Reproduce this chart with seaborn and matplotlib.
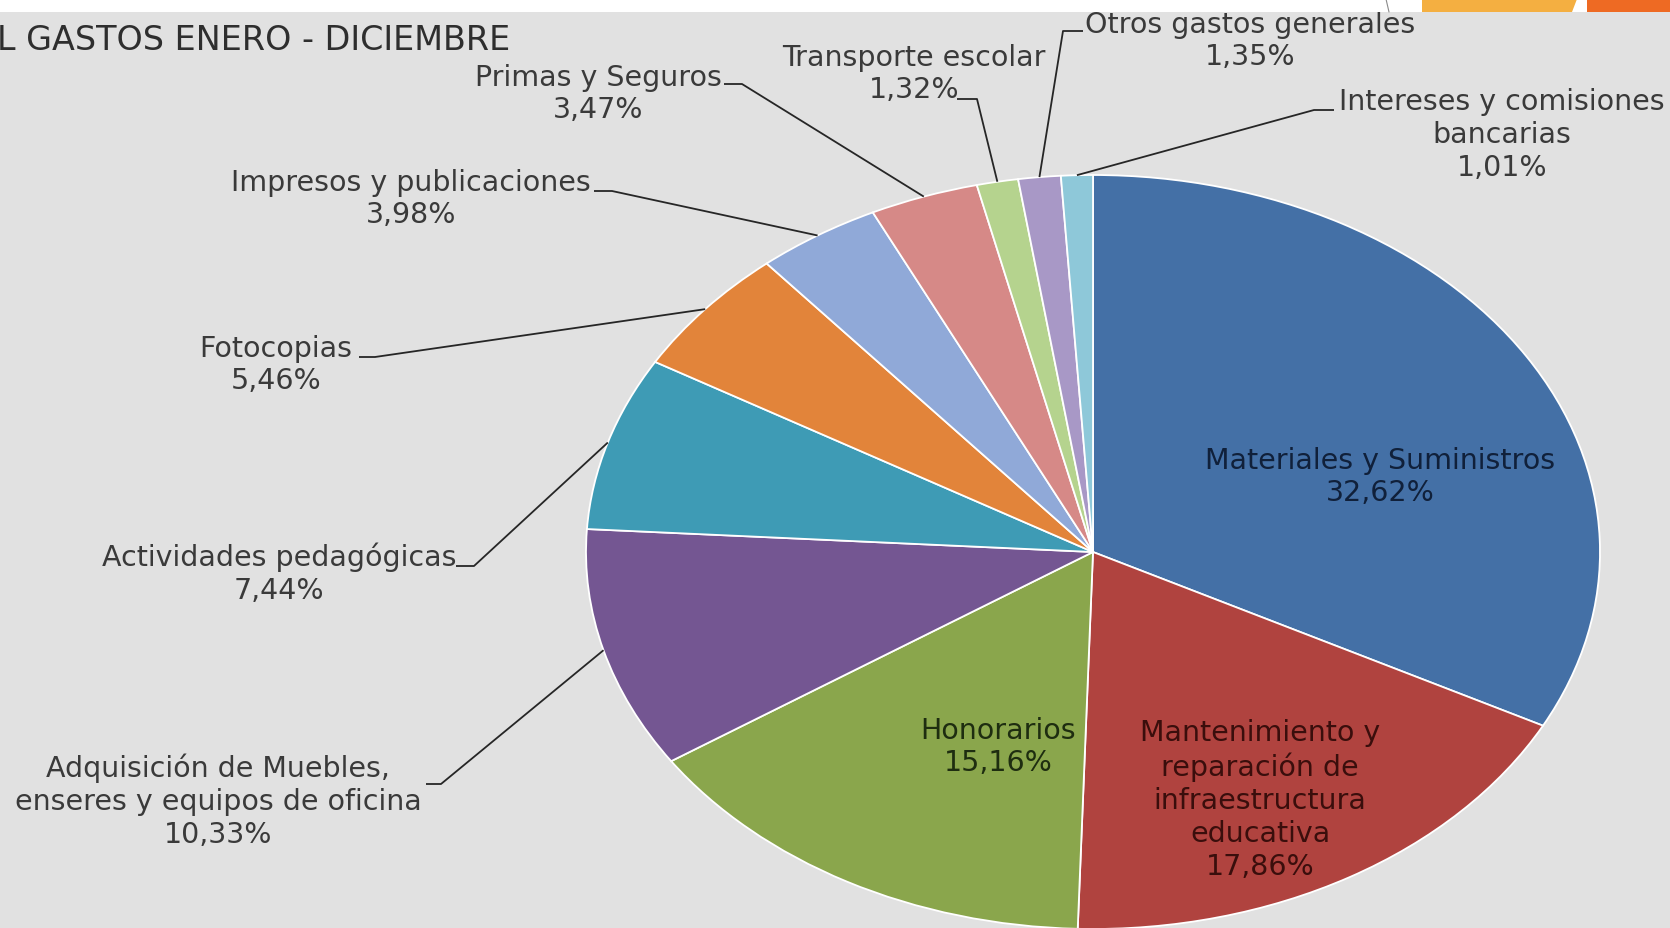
import numpy as np
import matplotlib
matplotlib.use("Agg")
import matplotlib.pyplot as plt
import matplotlib.patches as mpatches
import seaborn as sns

sns.set_style("white")
plt.rcParams['font.family'] = ['DejaVu Sans']

# data, clockwise from 12 o'clock
categories = [
    "Materiales y Suministros",
    "Mantenimiento y\nreparación de\ninfraestructura\neducativa",
    "Honorarios",
    "Adquisición de Muebles,\nenseres y equipos de oficina",
    "Actividades pedagógicas",
    "Fotocopias",
    "Impresos y publicaciones",
    "Primas y Seguros",
    "Transporte escolar",
    "Otros gastos generales",
    "Intereses y comisiones\nbancarias",
]
percents = [32.62, 17.86, 15.16, 10.33, 7.44, 5.46, 3.98, 3.47, 1.32, 1.35, 1.01]
pct_labels = ["32,62%", "17,86%", "15,16%", "10,33%", "7,44%", "5,46%",
              "3,98%", "3,47%", "1,32%", "1,35%", "1,01%"]
title = "L GASTOS ENERO - DICIEMBRE"

colors = ['#4470A6', '#B0433F', '#8AA64C', '#745692', '#3E9BB5', '#E2843A',
          '#90A9D8', '#D68987', '#B5D38E', '#A898C6', '#8EC8D9']

# layout (pixels in the 1670x929 canvas)
W, H = 1670, 929
CX, CY, RX, RY = 1093, 553, 507, 377
# label block centres, and leader start / knee for outside labels (None = inside)
label_pos = [(1380, 477), (1260, 800), (998, 747), (218, 801), (279, 574), (276, 365),
             (411, 199), (598, 94), (914, 74), (1250, 41), (1502, 135)]
leader = [None, None, None,
          ((426, 785), (441, 785)), ((456, 567), (474, 567)), ((359, 358), (375, 358)),
          ((594, 192), (612, 192)), ((724, 85), (742, 85)), ((957, 100), (977, 100)),
          ((1083, 32), (1063, 32)), ((1334, 111), (1314, 111))]
text_colors = ['#10203A', '#3A0E0C', '#1E2D10'] + ['#3A3A3A'] * 8


def px(x, y):
    return (x - CX) / RX, (CY - y) / RY


fig = plt.figure(figsize=(16.7, 9.29), dpi=100)
fig.patch.set_facecolor('#E1E1E1')
ax = fig.add_axes([0, 0, 1, 1])
ax.set_facecolor('#E1E1E1')

ax.pie(percents, colors=colors, startangle=90, counterclock=False, radius=1,
       wedgeprops=dict(edgecolor='white', linewidth=1.3))
ax.set_aspect('auto')
ax.set_xlim(-CX / RX, (W - CX) / RX)
ax.set_ylim(-(H - CY) / RY, CY / RY)
ax.axis('off')

cum = np.cumsum(percents) - np.array(percents) / 2
for i, (cat, pl) in enumerate(zip(categories, pct_labels)):
    tx, ty = px(*label_pos[i])
    ax.text(tx, ty, cat + "\n" + pl, ha='center', va='center', multialignment='center',
            fontsize=20.5, color=text_colors[i], linespacing=1.22)
    if leader[i] is not None:
        ang = np.deg2rad(90 - 360 * cum[i] / 100)
        (sx, sy), (kx, ky) = leader[i]
        p0, p1 = px(sx, sy), px(kx, ky)
        ax.plot([p0[0], p1[0], np.cos(ang)], [p0[1], p1[1], np.sin(ang)],
                color='#262626', linewidth=1.3, solid_capstyle='butt')

fig.text(-0.002, 1 - 41 / H, title, ha='left', va='center', fontsize=24, color='#2E2E2E')

# slide frame pieces at the top edge
fig.patches.append(mpatches.Rectangle((0, 1 - 13 / H), 1, 13 / H, transform=fig.transFigure,
                                      facecolor='white', edgecolor='none'))
fig.patches.append(mpatches.Polygon([(1422 / W, 1), (1577 / W, 1), (1572 / W, 1 - 13 / H), (1422 / W, 1 - 13 / H)],
                                    closed=True, transform=fig.transFigure, facecolor='#F4AF41', edgecolor='none'))
fig.patches.append(mpatches.Polygon([(1587 / W, 1), (1.0, 1), (1.0, 1 - 13 / H), (1587 / W, 1 - 13 / H)],
                                    closed=True, transform=fig.transFigure, facecolor='#EE6A23', edgecolor='none'))
fig.lines.append(plt.Line2D([1386 / W, 1389 / W], [1, 1 - 13 / H], transform=fig.transFigure,
                            color='#8A8A8A', linewidth=0.8))

fig.savefig("out.png", dpi=100, facecolor=fig.get_facecolor())
